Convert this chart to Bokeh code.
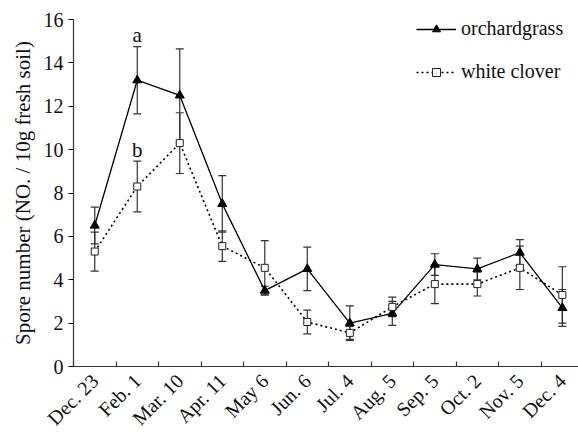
from bokeh.plotting import figure
from bokeh.models import (ColumnDataSource, Whisker, FixedTicker, Legend, LegendItem,
                          Range1d, TeeHead)
from bokeh.core.properties import value
from bokeh.embed import file_html
from bokeh.resources import INLINE
import math

dates = ["Dec. 23", "Feb. 1", "Mar. 10", "Apr. 11", "May 6", "Jun. 6",
         "Jul. 4", "Aug. 5", "Sep. 5", "Oct. 2", "Nov. 5", "Dec. 4"]
orchard = [6.5, 13.2, 12.5, 7.5, 3.5, 4.5, 2.0, 2.45, 4.7, 4.5, 5.25, 2.7]
orchard_err = [0.85, 1.55, 2.15, 1.3, 0.2, 1.0, 0.8, 0.55, 0.5, 0.5, 0.6, 0.85]
clover = [5.3, 8.3, 10.3, 5.55, 4.55, 2.05, 1.55, 2.75, 3.8, 3.8, 4.55, 3.3]
clover_err = [0.9, 1.17, 1.4, 0.7, 1.25, 0.55, 0.3, 0.45, 0.9, 0.55, 1.0, 1.3]
letters = ["a", "b"]
letter_date = ["Feb. 1", "Feb. 1"]
letter_y = [15.3, 10.0]
y_title = "Spore number (NO. / 10g fresh soil)"

FONT = "Liberation Serif"
pos = {d: i + 0.5 for i, d in enumerate(dates)}
xs = [pos[d] for d in dates]

src_o = ColumnDataSource(dict(x=xs, y=orchard,
                              lo=[v - e for v, e in zip(orchard, orchard_err)],
                              hi=[v + e for v, e in zip(orchard, orchard_err)]))
src_c = ColumnDataSource(dict(x=xs, y=clover,
                              lo=[v - e for v, e in zip(clover, clover_err)],
                              hi=[v + e for v, e in zip(clover, clover_err)]))

p = figure(width=578, height=442, output_backend="svg", toolbar_location=None,
           x_range=Range1d(0, 11.88), y_range=Range1d(0, 16),
           min_border_left=73, min_border_top=19, min_border_bottom=76,
           min_border_right=0)
p.outline_line_color = None
p.grid.grid_line_color = None
p.background_fill_color = "white"

for src in (src_o, src_c):
    w = Whisker(source=src, base="x", lower="lo", upper="hi",
                line_color="#333333", line_width=1.2,
                upper_head=TeeHead(size=8, line_color="#333333", line_width=1.2),
                lower_head=TeeHead(size=8, line_color="#333333", line_width=1.2))
    p.add_layout(w)

lo = p.line("x", "y", source=src_o, line_color="black", line_width=1.3)
so = p.scatter("x", "y", source=src_o, marker="triangle", size=9,
               fill_color="black", line_color="black")
lc = p.line("x", "y", source=src_c, line_color="black", line_width=1.6,
            line_dash="2 3")
sc = p.scatter("x", "y", source=src_c, marker="square", size=7,
               fill_color="white", line_color="#222222", line_width=1)

p.text(x=[pos[d] for d in letter_date], y=letter_y, text=letters,
       text_font=value(FONT), text_font_size="21px", text_align="center",
       text_baseline="middle", text_color="#111111")

# axes
p.xaxis.ticker = FixedTicker(ticks=xs, minor_ticks=list(range(13)))
p.xaxis.major_label_overrides = {x: d for x, d in zip(xs, dates)}
p.xaxis.major_label_orientation = math.pi / 4
p.xaxis.major_tick_line_color = None
p.xaxis.minor_tick_in = 5
p.xaxis.minor_tick_out = 0
p.xaxis.minor_tick_line_color = "#333333"
p.xaxis.minor_tick_line_width = 1.2

p.yaxis.ticker = FixedTicker(ticks=[0, 2, 4, 6, 8, 10, 12, 14, 16])
p.yaxis.major_tick_in = 0
p.yaxis.major_tick_out = 5
p.yaxis.minor_tick_line_color = None
p.yaxis.axis_label = y_title
p.yaxis.axis_label_text_font = FONT
p.yaxis.axis_label_text_font_style = "normal"
p.yaxis.axis_label_text_font_size = "21px"
p.yaxis.axis_label_text_color = "#111111"
p.yaxis.axis_label_standoff = 6

for ax in (p.xaxis, p.yaxis):
    ax.axis_line_color = "#333333"
    ax.axis_line_width = 1.2
    ax.major_tick_line_width = 1.2
    ax.major_label_text_font = FONT
    ax.major_label_text_font_size = "20px"
    ax.major_label_text_color = "#111111"
    ax.major_label_standoff = 5

legend = Legend(items=[LegendItem(label="orchardgrass", renderers=[lo, so]),
                       LegendItem(label="white clover", renderers=[lc, sc])],
                location=(343, 283), padding=0, margin=0, border_line_color=None,
                background_fill_alpha=0, glyph_width=40, glyph_height=20,
                label_height=20, spacing=20, label_standoff=5,
                label_text_font=FONT, label_text_font_size="20px",
                label_text_color="#111111")
p.add_layout(legend)

open("out.html", "w").write(file_html(p, INLINE))
